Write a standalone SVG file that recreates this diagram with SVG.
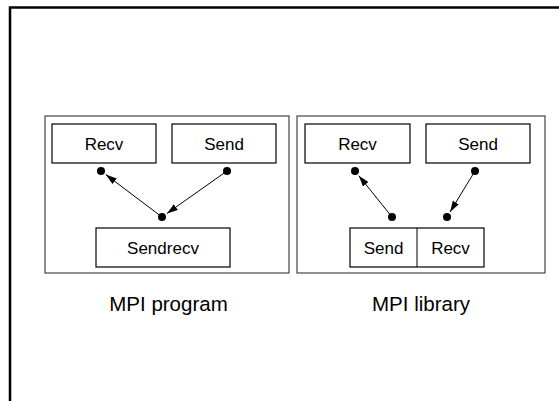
<svg xmlns="http://www.w3.org/2000/svg" width="559" height="401" viewBox="0 0 559 401">
<style>
.frame{fill:none;stroke:#000;stroke-width:2.5}
.cont{fill:none;stroke:#444;stroke-width:1.2}
.box{fill:#fff;stroke:#000;stroke-width:1.2}
.lbl{font-family:"Liberation Sans",Arial,sans-serif;font-size:17px;fill:#000;text-anchor:middle}
.cap{font-family:"Liberation Sans",Arial,sans-serif;font-size:20.5px;fill:#000;text-anchor:middle}
.dot{fill:#000}
.arr{stroke:#000;stroke-width:1;fill:none;marker-end:url(#ah)}
</style>
<defs>
<marker id="ah" markerUnits="userSpaceOnUse" markerWidth="11" markerHeight="8" refX="11" refY="3.5" orient="auto">
<path d="M0,0 L11,3.5 L0,7 z" fill="#000"/>
</marker>
</defs>
<rect width="559" height="401" fill="#fff"/>
<path class="frame" d="M10,401 V7.5 H559"/>

<g id="program">
<rect class="cont" x="45" y="116" width="244" height="157"/>
<g id="p-recv"><rect class="box" x="52" y="124" width="104" height="39"/><text class="lbl" x="104" y="150">Recv</text></g>
<g id="p-send"><rect class="box" x="172" y="124" width="104" height="39"/><text class="lbl" x="224" y="150">Send</text></g>
<g id="p-sendrecv"><rect class="box" x="96" y="228" width="134" height="39"/><text class="lbl" x="163" y="254">Sendrecv</text></g>
<text class="cap" x="168.5" y="311">MPI program</text>
</g>

<g id="library">
<rect class="cont" x="297" y="116" width="248" height="157"/>
<g id="l-recv"><rect class="box" x="305" y="124" width="105" height="39"/><text class="lbl" x="357.5" y="150">Recv</text></g>
<g id="l-send"><rect class="box" x="426" y="124" width="104" height="39"/><text class="lbl" x="478" y="150">Send</text></g>
<g id="l-sendrecv"><rect class="box" x="350" y="228" width="134" height="39"/><line x1="417" y1="228" x2="417" y2="267" stroke="#000" stroke-width="1"/><text class="lbl" x="383.5" y="254">Send</text><text class="lbl" x="450.5" y="254">Recv</text></g>
<text class="cap" x="421" y="311">MPI library</text>
</g>

<g id="connectors">
<circle class="dot" cx="101" cy="171" r="4"/>
<circle class="dot" cx="227" cy="171" r="4"/>
<circle class="dot" cx="162" cy="217" r="4"/>
<line class="arr" x1="162" y1="217" x2="105.8" y2="174.6"/>
<line class="arr" x1="227" y1="171" x2="166.9" y2="213.5"/>
<circle class="dot" cx="355" cy="171" r="4"/>
<circle class="dot" cx="475" cy="171" r="4"/>
<circle class="dot" cx="392" cy="217" r="4"/>
<circle class="dot" cx="447" cy="217" r="4"/>
<line class="arr" x1="392" y1="217" x2="358.8" y2="175.7"/>
<line class="arr" x1="475" y1="171" x2="450.1" y2="211.9"/>
</g>
</svg>
